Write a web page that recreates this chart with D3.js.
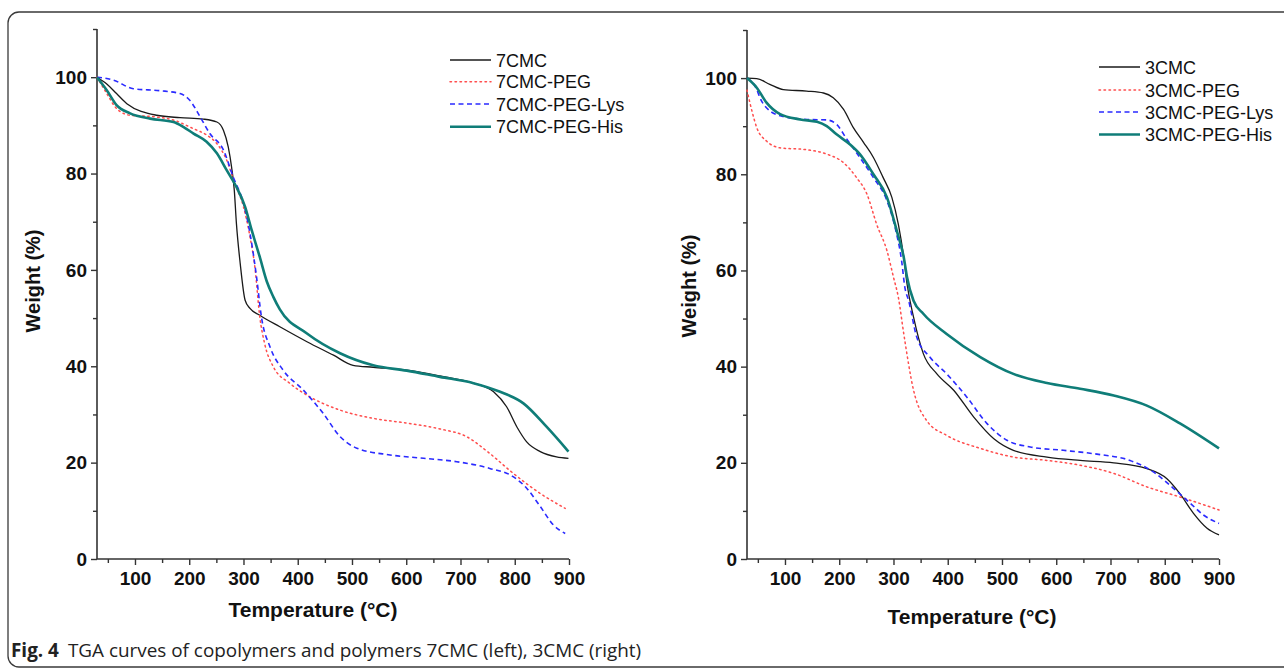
<!DOCTYPE html>
<html><head><meta charset="utf-8">
<script src="https://cdn.jsdelivr.net/npm/d3@7"></script>
<style>html,body{margin:0;padding:0;background:#fff;}svg{display:block;}</style>
</head><body>
<svg id="c" width="1284" height="668"></svg>
<script>
// ---- data: [temperature °C, weight %] ----
const cmc7 = [[30,100],[48,98.6],[66,96.6],[85,94.5],[140,92.1],[183,91.6],[226,91.3],[251,90.7],[263,89.0],[272,85.5],[278,81.4],[283,76.6],[287,69.6],[294,61.3],[303,53.7],[312,52.0],[330,50.6],[367,48.2],[417,45.1],[466,42.3],[502,40.2],[539,39.8],[601,39.2],[662,38.0],[724,36.5],[761,34.7],[785,31.6],[804,27.4],[822,24.3],[847,22.3],[877,21.2],[899,20.9]];
const cmc7Peg = [[30,100],[48,96.6],[66,93.5],[91,92.1],[134,91.8],[171,91.1],[208,89.3],[232,88.0],[251,86.2],[269,82.8],[284,77.9],[300,73.1],[312,66.9],[321,60.6],[330,50.3],[339,44.7],[355,39.9],[385,36.5],[417,34.0],[478,30.9],[539,29.2],[601,28.2],[662,27.0],[711,25.4],[754,21.9],[797,17.8],[847,13.6],[893,10.5]];
const cmc7PegLys = [[30,100],[60,99.4],[97,97.6],[146,97.2],[183,96.6],[201,95.2],[220,91.8],[238,88.3],[263,84.9],[281,79.3],[300,73.8],[312,67.6],[324,58.6],[333,50.3],[349,44.0],[373,39.2],[410,35.1],[447,30.2],[478,25.4],[509,23.0],[570,21.6],[632,20.9],[693,20.2],[754,18.8],[797,17.1],[822,14.7],[847,10.9],[871,7.1],[893,5.3]];
const cmc7PegHis = [[30,100],[48,97.3],[66,94.2],[91,92.5],[128,91.4],[171,90.7],[189,89.7],[208,88.3],[232,86.6],[251,84.2],[269,80.7],[287,77.2],[303,73.1],[315,68.3],[330,62.7],[343,57.6],[355,54.4],[367,51.8],[417,46.8],[478,42.7],[539,40.2],[601,39.1],[662,37.8],[724,36.5],[773,34.7],[816,32.3],[859,27.4],[899,22.3]];

const cmc3 = [[30,100],[48,99.9],[72,98.7],[97,97.6],[140,97.3],[171,96.9],[189,95.9],[208,93.5],[226,89.7],[245,86.6],[263,83.5],[281,79.3],[297,75.2],[309,69.6],[319,62.7],[325,57.2],[337,50.3],[355,42.7],[380,38.5],[411,35.1],[448,29.5],[485,25.0],[521,22.6],[583,21.2],[644,20.5],[706,20.0],[767,18.8],[804,16.7],[828,13.6],[853,9.5],[878,6.4],[900,5.0]];
const cmc3Peg = [[30,97.5],[39,93.2],[48,89.7],[66,86.9],[91,85.5],[140,85.1],[177,84.2],[208,82.4],[232,79.3],[251,75.9],[269,69.6],[288,64.1],[300,58.6],[309,54.4],[319,46.8],[337,35.1],[361,28.8],[398,25.7],[460,23.0],[521,21.2],[583,20.5],[644,19.5],[706,17.8],[767,15.0],[828,12.9],[900,10.2]];
const cmc3PegLys = [[30,100],[45,98.3],[57,95.2],[72,93.2],[97,92.0],[140,91.4],[177,91.3],[195,90.4],[214,87.3],[238,83.5],[263,79.3],[288,74.5],[303,68.9],[315,62.0],[321,56.5],[328,53.7],[343,46.1],[367,42.0],[398,38.5],[435,33.7],[472,28.2],[509,24.7],[552,23.3],[613,22.6],[675,21.8],[736,20.5],[779,18.1],[816,14.7],[847,11.6],[872,9.1],[900,7.4]];
const cmc3PegHis = [[30,100],[48,98.0],[66,94.9],[91,92.5],[128,91.4],[159,90.9],[177,90.0],[195,88.3],[220,86.2],[238,84.2],[263,80.0],[288,75.2],[306,68.3],[319,62.7],[325,58.6],[337,53.7],[355,51.0],[398,46.8],[460,42.0],[521,38.5],[583,36.6],[644,35.4],[706,34.0],[767,31.9],[828,28.2],[900,23.0]];

const xTicks = [100,200,300,400,500,600,700,800,900];
const yTicks = [0,20,40,60,80,100];
const namesLeft = ["7CMC","7CMC-PEG","7CMC-PEG-Lys","7CMC-PEG-His"];
const namesRight = ["3CMC","3CMC-PEG","3CMC-PEG-Lys","3CMC-PEG-His"];
const xTitle = "Temperature (°C)";
const yTitle = "Weight (%)";

// ---- styles ----
const styles = [
  {color:"#1a1a1a", width:1.3, dash:null},
  {color:"#ff4d4d", width:1.5, dash:"1.5,3.5"},
  {color:"#2a2aff", width:1.6, dash:"5,3.5"},
  {color:"#0f7d78", width:2.6, dash:null}
];
const FONT = "Liberation Sans, Arial, sans-serif";

const svg = d3.select("#c");
// frame
svg.append("rect").attr("x",8).attr("y",12).attr("width",1300).attr("height",655)
  .attr("rx",11).attr("fill","none").attr("stroke","#3a3a3a").attr("stroke-width",1.3);

function panel(opts){
  const {x0, x1, yTop, yBot, series, names, legX, legY, legDy, xTitleY, yTitleX, yTitleY} = opts;
  const x = d3.scaleLinear().domain([30,900]).range([x0,x1]);
  const y = d3.scaleLinear().domain([0,110]).range([yBot,yTop]);
  const g = svg.append("g");
  const ya = g.append("g").attr("transform",`translate(${x0},0)`)
    .call(d3.axisLeft(y).tickValues(yTicks).tickSize(6).tickPadding(4).tickFormat(d3.format("d")));
  g.append("g").attr("transform",`translate(${x0},0)`)
    .call(d3.axisLeft(y).tickValues([10,30,50,70,90,110]).tickSize(4).tickFormat(""))
    .call(s=>s.select(".domain").remove());
  const xa = g.append("g").attr("transform",`translate(0,${yBot})`)
    .call(d3.axisBottom(x).tickValues(xTicks).tickSize(6).tickPadding(7).tickFormat(d3.format("d")));
  g.append("g").attr("transform",`translate(0,${yBot})`)
    .call(d3.axisBottom(x).tickValues([50,150,250,350,450,550,650,750,850]).tickSize(4).tickFormat(""))
    .call(s=>s.select(".domain").remove());
  g.selectAll(".domain").attr("stroke","#333").attr("stroke-width",1.6);
  g.selectAll(".tick line").attr("stroke","#333").attr("stroke-width",1.4);
  g.selectAll(".tick text").attr("font-family",FONT)
    .attr("font-weight","bold").attr("font-size",19).attr("fill","#111");
  ya.select(".domain").attr("d",`M0,${yBot}V${yTop}`);
  xa.select(".domain").attr("d",`M${x0},0H${x1}`);
  g.append("text").attr("x",(x0+x1)/2+opts.xTitleDx).attr("y",xTitleY).attr("text-anchor","middle")
    .attr("font-family",FONT).attr("font-weight","bold")
    .attr("font-size",21).attr("fill","#111").text(xTitle);
  g.append("text").attr("transform",`translate(${yTitleX},${yTitleY}) rotate(-90)`).attr("text-anchor","middle")
    .attr("font-family",FONT).attr("font-weight","bold")
    .attr("font-size",20).attr("fill","#111").text(yTitle);
  const line = d3.line().x(d=>x(d[0])).y(d=>y(d[1])).curve(d3.curveMonotoneX);
  series.forEach((s,i)=>{
    const st = styles[i];
    g.append("path").datum(s).attr("d",line).attr("fill","none")
      .attr("stroke",st.color).attr("stroke-width",st.width)
      .attr("stroke-dasharray",st.dash).attr("stroke-linecap",i===1?"round":"butt");
  });
  let ly = legY;
  names.forEach((n,i)=>{
    const st = styles[i];
    ly += legDy[i];
    g.append("line").attr("x1",legX).attr("x2",legX+41).attr("y1",ly).attr("y2",ly)
      .attr("stroke",st.color).attr("stroke-width",st.width).attr("stroke-dasharray",st.dash)
      .attr("stroke-linecap",i===1?"round":"butt");
    g.append("text").attr("x",legX+46).attr("y",ly+6.5).attr("font-family",FONT)
      .attr("font-size",18).attr("fill","#111").text(n);
  });
}

panel({x0:97, x1:569, yTop:29, yBot:559, series:[cmc7,cmc7Peg,cmc7PegLys,cmc7PegHis], names:namesLeft,
  legX:450, legY:60, legDy:[0,21.7,22.3,22.7], xTitleY:617, xTitleDx:-20, yTitleX:40, yTitleY:281});
panel({x0:747, x1:1219, yTop:30, yBot:559, series:[cmc3,cmc3Peg,cmc3PegLys,cmc3PegHis], names:namesRight,
  legX:1099, legY:67, legDy:[0,23,22,22.5], xTitleY:624, xTitleDx:-11, yTitleX:696, yTitleY:286});

// caption
const cap = svg.append("text").attr("x",11).attr("y",657).attr("font-family","Open Sans, sans-serif")
  .attr("font-size",18.9).attr("fill","#222");
cap.append("tspan").attr("font-weight","bold").text("Fig. 4");
cap.append("tspan").attr("dx",9).text("TGA curves of copolymers and polymers 7CMC (left), 3CMC (right)");
</script>
</body></html>
